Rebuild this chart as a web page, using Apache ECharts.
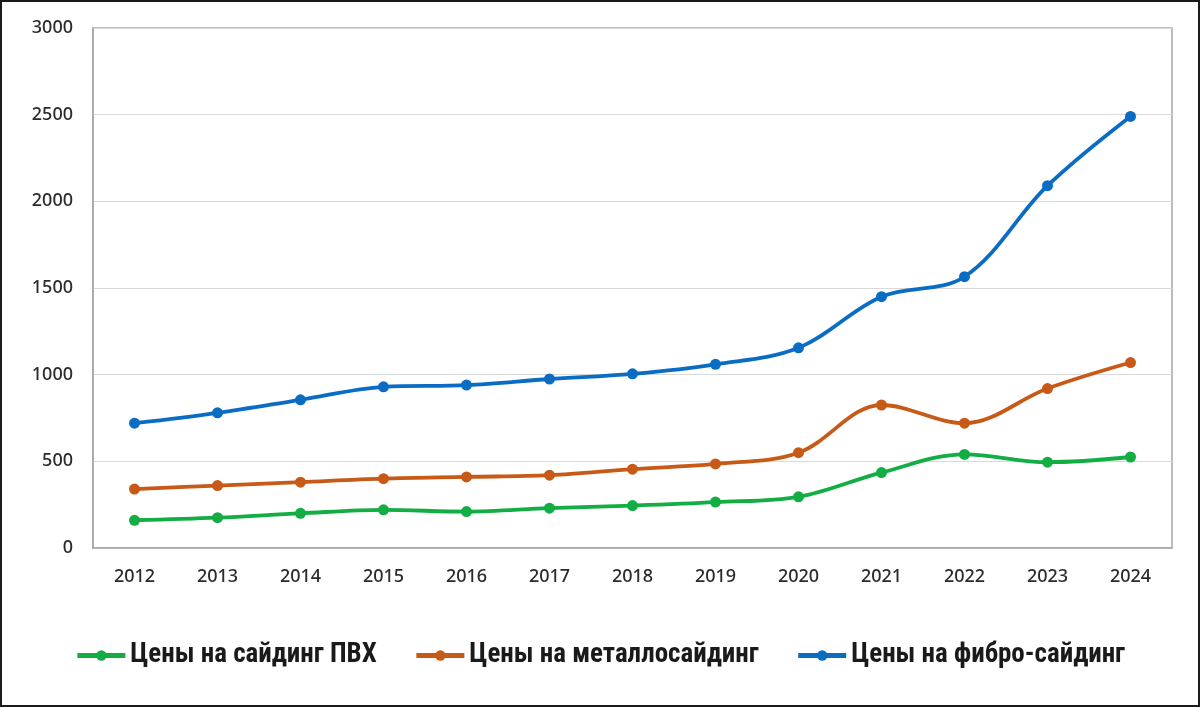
<!DOCTYPE html>
<html>
<head>
<meta charset="utf-8">
<script src="https://cdn.jsdelivr.net/npm/echarts@6/dist/echarts.min.js"></script>
<style>
html,body{margin:0;padding:0;background:#fff;}
#chart{width:1200px;height:707px;}
</style>
</head>
<body>
<div id="chart"></div>
<script>
const years = ['2012','2013','2014','2015','2016','2017','2018','2019','2020','2021','2022','2023','2024'];
const pvc = [160,175,200,220,210,230,245,265,295,435,540,495,525];
const metal = [340,360,380,400,410,420,455,485,550,825,720,920,1070];
const fibro = [720,780,855,930,940,975,1005,1060,1155,1450,1565,2090,2490];
const yTicks = [0,500,1000,1500,2000,2500,3000];
const names = ['Цены на сайдинг ПВХ','Цены на металлосайдинг','Цены на фибро-сайдинг'];
const colors = ['#12ad43','#c65a16','#0b6cc4'];

const chart = echarts.init(document.getElementById('chart'));
function mk(name, data, color){
  return {
    name, type:'line', data, smooth:0.35,
    symbol:'circle', symbolSize:11,
    lineStyle:{width:3.8,color}, itemStyle:{color},
    z: 3
  };
}
const tickFont = {fontSize:18,fontFamily:'"Noto Sans","Liberation Sans",sans-serif',fontWeight:500,color:'#2b2b2b'};
chart.setOption({
  animation:false,
  backgroundColor:'#fff',
  graphic:[{type:'rect',shape:{x:1,y:1,width:1198,height:705},style:{fill:'none',stroke:'#1a1a1a',lineWidth:2},silent:true}],
  grid:{left:93,right:28,top:28,bottom:159,show:true,borderColor:'#a6a6a6',borderWidth:1.5,containLabel:false},
  legend:{
    top:637,left:'center',itemGap:37,itemWidth:48,itemHeight:13,
    lineStyle:{width:5},
    textStyle:{fontFamily:'"Liberation Sans Narrow","Roboto Condensed","Liberation Sans",sans-serif',fontSize:27,fontWeight:'bold',color:'#1a1a1a',padding:[0,0,0,0]},
    data:names
  },
  xAxis:{
    type:'category',data:years,boundaryGap:true,
    axisLine:{lineStyle:{color:'#a6a6a6',width:1.5}},
    axisTick:{show:false},
    axisLabel:Object.assign({margin:20},tickFont)
  },
  yAxis:{
    type:'value',min:0,max:3000,interval:500,
    axisLine:{show:true,lineStyle:{color:'#a6a6a6',width:1.5}},
    axisTick:{show:false},
    splitLine:{lineStyle:{color:'#d9d9d9',width:1.2}},
    axisLabel:Object.assign({margin:20,formatter:v=>yTicks.includes(v)?String(v):''},tickFont)
  },
  series:[mk(names[0],pvc,colors[0]),mk(names[1],metal,colors[1]),mk(names[2],fibro,colors[2])]
});
</script>
</body>
</html>
